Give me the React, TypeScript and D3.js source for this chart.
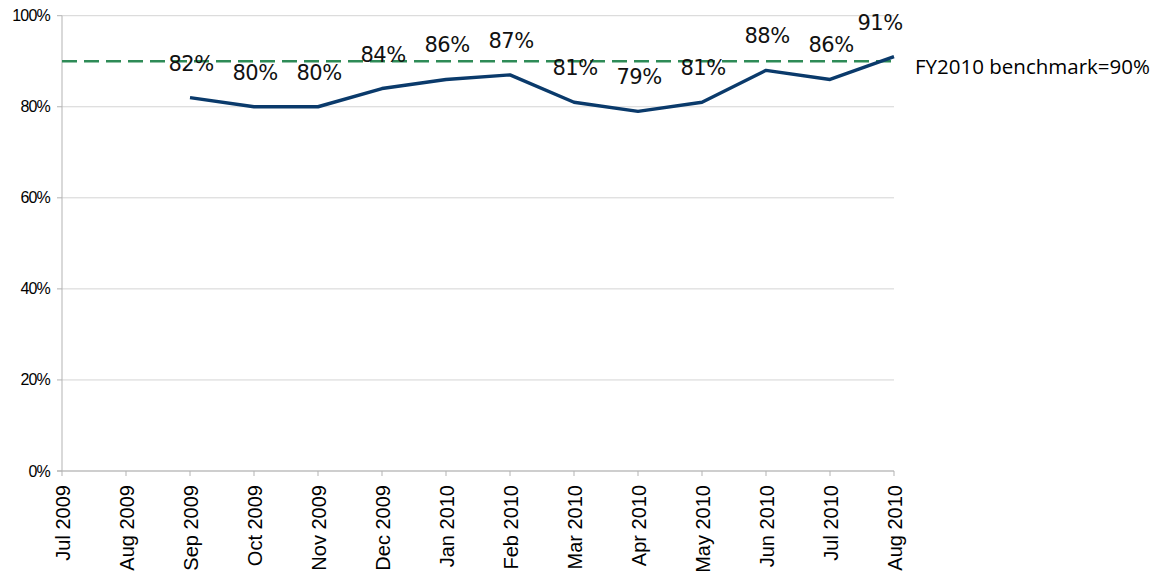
import React from "react";
import * as d3 from "d3";

const months = [
  "Jul 2009", "Aug 2009", "Sep 2009", "Oct 2009", "Nov 2009", "Dec 2009",
  "Jan 2010", "Feb 2010", "Mar 2010", "Apr 2010", "May 2010", "Jun 2010",
  "Jul 2010", "Aug 2010",
];
const values: (number | null)[] = [
  null, null, 0.82, 0.80, 0.80, 0.84, 0.86, 0.87, 0.81, 0.79, 0.81, 0.88, 0.86, 0.91,
];
const yTicks = [0, 0.2, 0.4, 0.6, 0.8, 1.0];
const benchmark = 0.9;
const benchmarkLabel = "FY2010 benchmark=90%";

const W = 1161;
const H = 578;
const left = 62;
const right = 894;
const top = 15.7;
const bottom = 471;

const SANS = "'Liberation Sans', Arial, sans-serif";
const DEJA = "'DejaVu Sans', Verdana, sans-serif";
const OPEN = "'Open Sans', sans-serif";

export default function App() {
  const x = d3.scalePoint<string>().domain(months).range([left, right]);
  const y = d3.scaleLinear().domain([0, 1]).range([bottom, top]);
  const pts = months
    .map((m, i) => ({ m, v: values[i] }))
    .filter((d) => d.v !== null) as { m: string; v: number }[];
  const line = d3
    .line<{ m: string; v: number }>()
    .x((d) => x(d.m)!)
    .y((d) => y(d.v));
  const pct = d3.format(".0%");

  return (
    <svg
      width={W}
      height={H}
      style={{ position: "absolute", left: 0, top: 0, background: "#fff" }}
    >
      {yTicks.map((t) => (
        <line
          key={"g" + t}
          x1={left}
          x2={right}
          y1={y(t)}
          y2={y(t)}
          stroke="#d4d4d4"
          strokeWidth={1}
        />
      ))}
      <line x1={left} x2={left} y1={top} y2={bottom} stroke="#b3b3b3" strokeWidth={1} />
      {yTicks.map((t) => (
        <g key={"yt" + t}>
          <line x1={left - 5} x2={left} y1={y(t)} y2={y(t)} stroke="#b3b3b3" />
          <text
            x={50}
            y={y(t)}
            textAnchor="end"
            dominantBaseline="central"
            style={{ fontFamily: SANS }}
            fontSize={16}
            letterSpacing={-0.8}
            fill="#000"
          >
            {pct(t)}
          </text>
        </g>
      ))}
      <line x1={left - 5} x2={right} y1={bottom} y2={bottom} stroke="#b3b3b3" strokeWidth={1} />
      {months.map((m) => (
        <g key={"xt" + m}>
          <line x1={x(m)!} x2={x(m)!} y1={bottom} y2={bottom + 5} stroke="#b3b3b3" />
          <text
            transform={`translate(${x(m)! + 1},485) rotate(-90)`}
            textAnchor="end"
            dominantBaseline="central"
            style={{ fontFamily: SANS }}
            fontSize={20}
            fill="#000"
          >
            {m}
          </text>
        </g>
      ))}
      <line
        x1={left}
        x2={right}
        y1={y(benchmark)}
        y2={y(benchmark)}
        stroke="#2e8b57"
        strokeWidth={2.5}
        strokeDasharray="15 7"
      />
      <text
        x={915}
        y={y(benchmark) + 5}
        dominantBaseline="central"
        style={{ fontFamily: OPEN }}
        fontSize={20.5}
        fill="#000"
      >
        {benchmarkLabel}
      </text>
      <path
        d={line(pts) || ""}
        fill="none"
        stroke="#0a3a6b"
        strokeWidth={3.4}
        strokeLinejoin="round"
      />
      {pts.map((d) => {
        const cx = Math.min(x(d.m)!, 903 - 24);
        return (
          <text
            key={"l" + d.m}
            x={cx + 1}
            y={y(d.v) - 27}
            textAnchor="middle"
            style={{ fontFamily: DEJA }}
            fontSize={21}
            letterSpacing={-0.5}
            fill="#111"
          >
            {pct(d.v)}
          </text>
        );
      })}
    </svg>
  );
}
